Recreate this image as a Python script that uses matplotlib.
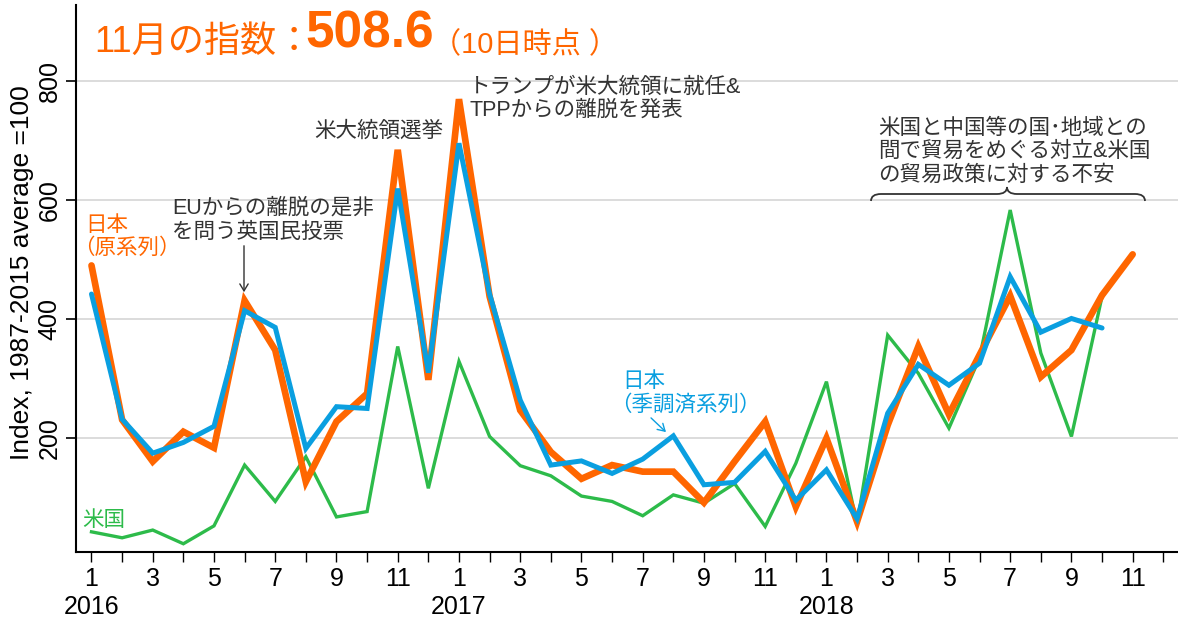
import matplotlib
matplotlib.use("Agg")
import matplotlib.pyplot as plt
from matplotlib.path import Path
from matplotlib.patches import PathPatch
from matplotlib.transforms import blended_transform_factory, IdentityTransform

plt.rcParams['font.family'] = ['Liberation Sans', 'Noto Sans CJK JP', 'DejaVu Sans']

# ---------------- data ----------------
years = ["2016", "2017", "2018"]
months = list(range(1, 13))
# Japan (raw series), Jan 2016 - Nov 2018
japan_raw = [490, 231, 161, 211, 184, 431, 348, 127, 228, 275, 684, 298,
             769, 438, 247, 177, 132, 155, 144, 144, 92, 161, 228, 85,
             200, 60, 222, 354, 240, 340, 439, 303, 348, 440, 508.6]
# Japan (seasonally adjusted), Jan 2016 - Oct 2018
japan_sa = [442, 232, 175, 193, 220, 414, 386, 183, 253, 250, 619, 310,
            695, 442, 264, 155, 162, 141, 165, 204, 122, 126, 178, 96,
            147, 65, 242, 324, 289, 326, 471, 378, 401, 385]
# United States, Jan 2016 - Oct 2018
usa = [43, 33, 46, 23, 53, 155, 94, 169, 68, 77, 354, 116,
       329, 203, 154, 137, 103, 94, 70, 105, 91, 124, 52, 158,
       295, 55, 373, 309, 217, 335, 583, 343, 203, 438]
yticks = [200, 400, 600, 800]

ORANGE = "#FF6600"
BLUE = "#0A9FE0"
GREEN = "#2DBB4A"
DARK = "#333333"

W, H = 1178, 619
fig = plt.figure(figsize=(W / 100, H / 100), dpi=100)
ax = fig.add_axes([76 / W, (H - 551.5) / H, (W - 76) / W, (551.5 - 5) / H])

n_months = len(years) * len(months)
xs_all = list(range(n_months))

ax.plot(range(len(usa)), usa, color=GREEN, lw=2.4, zorder=3, solid_joinstyle='miter')
ax.plot(range(len(japan_raw)), japan_raw, color=ORANGE, lw=4.8, zorder=4,
        solid_joinstyle='miter', solid_capstyle='round')
ax.plot(range(len(japan_sa)), japan_sa, color=BLUE, lw=3.6, zorder=5,
        solid_joinstyle='miter', solid_capstyle='round')

ax.set_xlim(-0.506, 35.48)
ax.set_ylim(10, 927)

for s in ['top', 'right']:
    ax.spines[s].set_visible(False)
for s in ['left', 'bottom']:
    ax.spines[s].set_linewidth(1.5)
    ax.spines[s].set_color('black')

ax.set_yticks(yticks)
ax.set_yticklabels([str(v) for v in yticks], rotation=90, va='center', fontsize=18)
ax.tick_params(axis='y', length=7.5, width=1.2, pad=3)
ax.yaxis.grid(True, color='#d9d9d9', lw=1.3)
ax.set_axisbelow(True)

ax.set_xticks(xs_all)
ax.set_xticklabels([str(months[i % 12]) if months[i % 12] % 2 == 1 else '' for i in xs_all],
                   fontsize=18)
ax.tick_params(axis='x', length=7.5, width=1.0, pad=4)

trans = blended_transform_factory(ax.transData, ax.transAxes)
for k, yr in enumerate(years):
    ax.text(k * 12, (551.5 - 607.5) / 546.5, yr, transform=trans, ha='center', va='center',
            fontsize=18)

fig.text(22 / W, 1 - 273 / H, "Index, 1987-2015 average =100", rotation=90,
         ha='center', va='center', fontsize=19, color='black')


def fp(x, y):
    return (x / W, 1 - y / H)


# title
fig.text(*fp(94, 52), "11月の指数：", color=ORANGE, fontsize=26, va='baseline', ha='left')
fig.text(*fp(305, 47), "508.6", color=ORANGE, fontsize=37, fontweight='bold',
         va='baseline', ha='left')
fig.text(*fp(432, 53), "（10日時点 ）", color=ORANGE, fontsize=21, va='baseline', ha='left')

FS = 15.5
# series labels
fig.text(*fp(85, 231), "日本", color=ORANGE, fontsize=FS, va='baseline')
fig.text(*fp(73, 254), "（原系列）", color=ORANGE, fontsize=FS, va='baseline')
fig.text(*fp(82, 526), "米国", color=GREEN, fontsize=FS, va='baseline')
fig.text(*fp(622, 387), "日本", color=BLUE, fontsize=FS, va='baseline')
fig.text(*fp(610, 411), "（季調済系列）", color=BLUE, fontsize=FS, va='baseline')

# event annotations
fig.text(*fp(172, 214), "EUからの離脱の是非", color=DARK, fontsize=FS, va='baseline')
fig.text(*fp(172, 238), "を問う英国民投票", color=DARK, fontsize=FS, va='baseline')
fig.text(*fp(314, 137), "米大統領選挙", color=DARK, fontsize=FS, va='baseline')
fig.text(*fp(469, 93), "トランプが米大統領に就任&", color=DARK, fontsize=FS, va='baseline')
fig.text(*fp(469, 116), "TPPからの離脱を発表", color=DARK, fontsize=FS, va='baseline')
fig.text(*fp(878, 134), "米国と中国等の国\uff65地域との", color=DARK, fontsize=FS, va='baseline')
fig.text(*fp(878, 157), "間で貿易をめぐる対立&米国", color=DARK, fontsize=FS, va='baseline')
fig.text(*fp(878, 181), "の貿易政策に対する不安", color=DARK, fontsize=FS, va='baseline')

# arrows
fig.add_artist(matplotlib.patches.FancyArrowPatch(
    (244, H - 243), (244, H - 295), transform=IdentityTransform(),
    arrowstyle='->,head_length=5,head_width=3', color=DARK, lw=1.0, mutation_scale=1))
fig.add_artist(matplotlib.patches.FancyArrowPatch(
    (649, H - 416), (668, H - 434), transform=IdentityTransform(),
    arrowstyle='->,head_length=5,head_width=3', color=BLUE, lw=1.0, mutation_scale=1))

# brace
def Y(y):
    return H - y

verts = [(871, Y(201)), (871, Y(194)), (881, Y(194)),
         (997, Y(194)),
         (1007, Y(194)), (1007, Y(187)),
         (1007, Y(194)), (1017, Y(194)),
         (1135, Y(194)),
         (1145, Y(194)), (1145, Y(201))]
codes = [Path.MOVETO, Path.CURVE3, Path.CURVE3,
         Path.LINETO,
         Path.CURVE3, Path.CURVE3,
         Path.CURVE3, Path.CURVE3,
         Path.LINETO,
         Path.CURVE3, Path.CURVE3]
fig.add_artist(PathPatch(Path(verts, codes), transform=IdentityTransform(),
                         fill=False, edgecolor=DARK, lw=1.3))

fig.savefig("out.png", dpi=100)
